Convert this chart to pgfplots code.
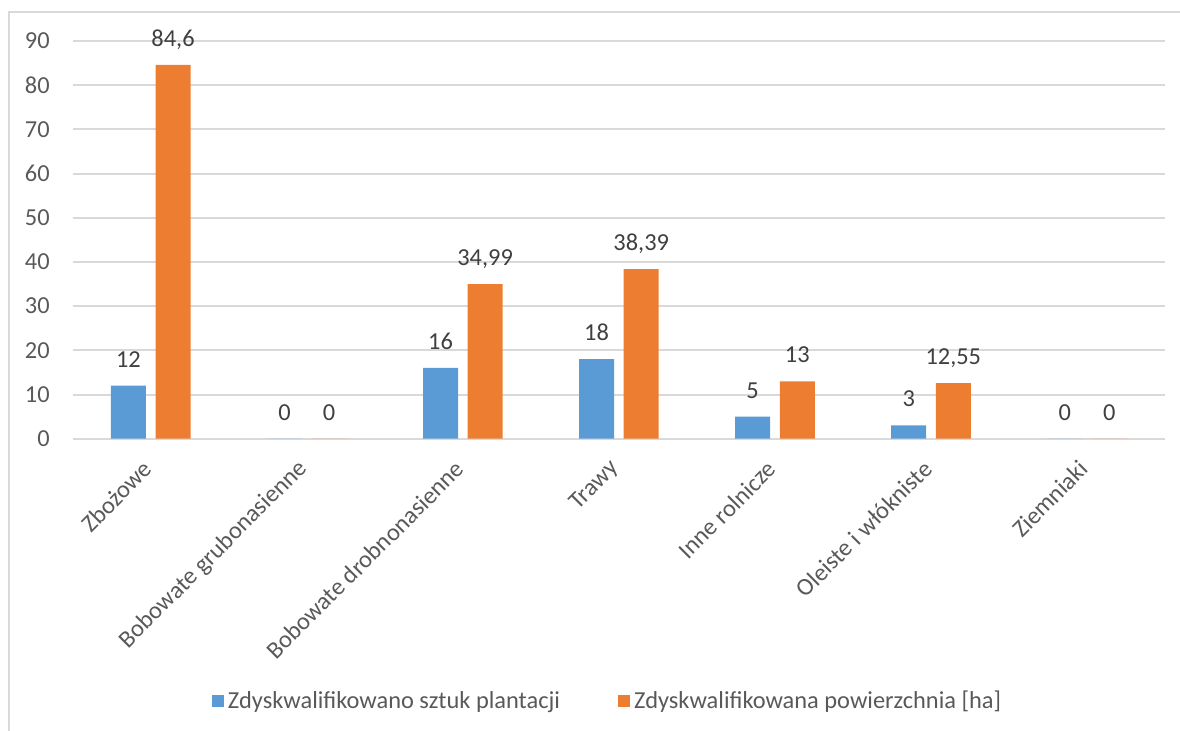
\documentclass[border=0pt]{standalone}
\usepackage{pgfplots}
\pgfplotsset{compat=1.18}
\usepackage{fontspec}
\setmainfont{Carlito}
\definecolor{barblue}{HTML}{5B9BD5}
\definecolor{barorange}{HTML}{ED7D31}
\definecolor{gridgray}{HTML}{D9D9D9}
\definecolor{ticktext}{HTML}{595959}
\definecolor{labtext}{HTML}{404040}
\newcommand{\chartfont}{\fontsize{12.2}{14.5}\selectfont}

\begin{document}
\begin{tikzpicture}
% page = 1180 x 730 px, 1 px = 0.5pt, origin top left
\path[use as bounding box] (0pt,0pt) rectangle (590pt,-365pt);
\draw[gridgray, line width=1pt] (4.5pt,-366pt) -- (4.5pt,-6pt) -- (591pt,-6pt);

\begin{axis}[
    at={(36.35pt,-219.35pt)}, anchor=south west,
    scale only axis,
    width=546.2pt, height=198.9pt,
    ybar, bar width=17.5pt, ybar=4.8pt,
    xmin=-0.5, xmax=6.5,
    ymin=0, ymax=90,
    xtick=data,
    xticklabels={Zbożowe, Bobowate grubonasienne, Bobowate drobnonasienne, Trawy, Inne rolnicze, Oleiste i włókniste, Ziemniaki},
    ytick={0,10,...,90},
    axis line style={draw=none},
    major tick length=0pt,
    ymajorgrids, grid style={gridgray, line width=1pt},
    /pgf/number format/assume math mode=true,
    /pgf/number format/use comma,
    tick label style={font=\chartfont, text=ticktext},
    yticklabel style={anchor=east, inner sep=0pt, xshift=-11.3pt},
    xticklabel style={anchor=east, xshift=-1.5pt, yshift=-4pt, rotate=45, inner sep=0pt},
    xticklabel shift=9pt,
    nodes near coords,
    nodes near coords style={font=\chartfont, text=labtext, anchor=base, inner sep=0pt, yshift=9.3pt},
    legend style={at={(0.4905,-0.6595)}, anchor=center, draw=none, fill=none,
        legend columns=2, font=\chartfont, text=ticktext,
        /tikz/every even column/.append style={column sep=27pt}},
    legend cell align=left,
    legend image code/.code={\fill[#1] (0pt,-3pt) rectangle (6pt,3pt);},
]
\addplot[fill=barblue, draw=none] coordinates {(0,12) (1,0) (2,16) (3,18) (4,5) (5,3) (6,0)};
\addlegendentry{Zdyskwalifikowano sztuk plantacji}
\addplot[fill=barorange, draw=none] coordinates {(0,84.6) (1,0) (2,34.99) (3,38.39) (4,13) (5,12.55) (6,0)};
\addlegendentry{Zdyskwalifikowana powierzchnia [ha]}
\end{axis}
\end{tikzpicture}
\end{document}
